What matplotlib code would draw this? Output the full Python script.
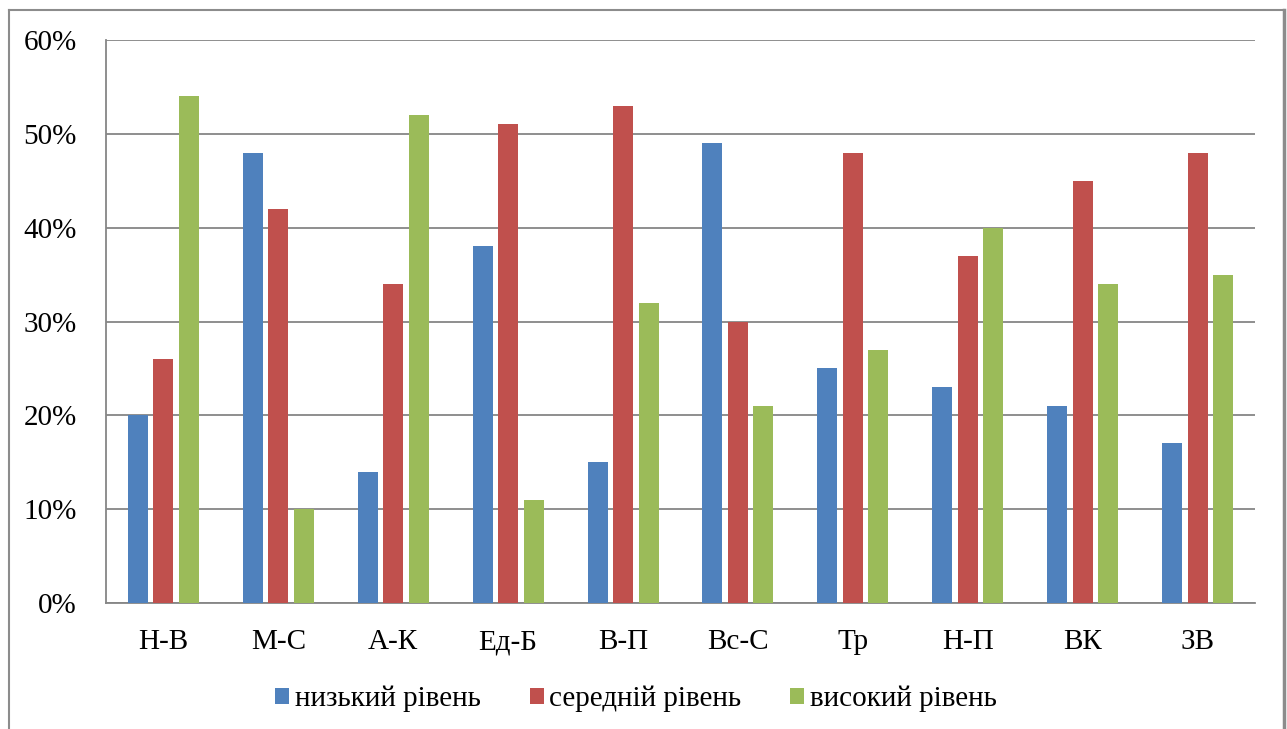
import matplotlib.pyplot as plt
import matplotlib as mpl
import numpy as np
from matplotlib.lines import Line2D
from matplotlib.ticker import PercentFormatter

mpl.rcParams['font.family'] = ['Liberation Serif', 'DejaVu Serif']

categories = ['Н-В', 'М-С', 'А-К', 'Ед-Б', 'В-П', 'Вс-С', 'Тр', 'Н-П', 'ВК', 'ЗВ']
low    = [20, 48, 14, 38, 15, 49, 25, 23, 21, 17]
medium = [26, 42, 34, 51, 53, 30, 48, 37, 45, 48]
high   = [54, 10, 52, 11, 32, 21, 27, 40, 34, 35]
series_names = ['низький рівень', 'середній рівень', 'високий рівень']
colors = ['#4F81BD', '#C0504D', '#9BBB59']

fig = plt.figure(figsize=(12.87, 7.29), dpi=100)
ax = fig.add_axes([106/1287, 1 - 603/729, (1255-106)/1287, (603-40)/729])

x = np.arange(len(categories))
w = 0.174
step = 0.222
for i, (vals, name, c) in enumerate(zip([low, medium, high], series_names, colors)):
    ax.bar(x + (i - 1) * step, vals, width=w, color=c, label=name, zorder=3)

ax.set_xlim(-0.5, len(categories) - 0.5)
ax.set_ylim(0, 60)
ax.set_yticks(range(0, 61, 10))
ax.yaxis.set_major_formatter(PercentFormatter(decimals=0))
ax.set_xticks(x)
ax.set_xticklabels(categories)
ax.grid(axis='y', color='#868686', linewidth=1.3, zorder=0)
ax.tick_params(axis='both', length=0, labelsize=21, colors='black')
ax.tick_params(axis='y', pad=21)
ax.tick_params(axis='x', pad=19)
for side in ['top', 'right']:
    ax.spines[side].set_visible(False)
for side in ['left', 'bottom']:
    ax.spines[side].set_color('#868686')
    ax.spines[side].set_linewidth(1.3)

fig.legend(loc='center', bbox_to_anchor=(636/1287, 1 - 699/729), ncol=3, frameon=False,
           fontsize=21, handlelength=0.48, handleheight=0.48, handletextpad=0.2,
           columnspacing=1.68)

# outer chart frame
W, H = 1287, 729
fx = lambda px: px / W
fy = lambda py: 1 - py / H
frame = dict(color='#8c8c8c', linewidth=1.5)
fig.add_artist(Line2D([fx(9), fx(9)], [0, fy(10)], **frame))
fig.add_artist(Line2D([fx(9), fx(1284)], [fy(10), fy(10)], **frame))
fig.add_artist(Line2D([fx(1284), fx(1284)], [0, fy(10)], color='#8c8c8c', linewidth=2.5))

fig.savefig('out.png', dpi=100)
